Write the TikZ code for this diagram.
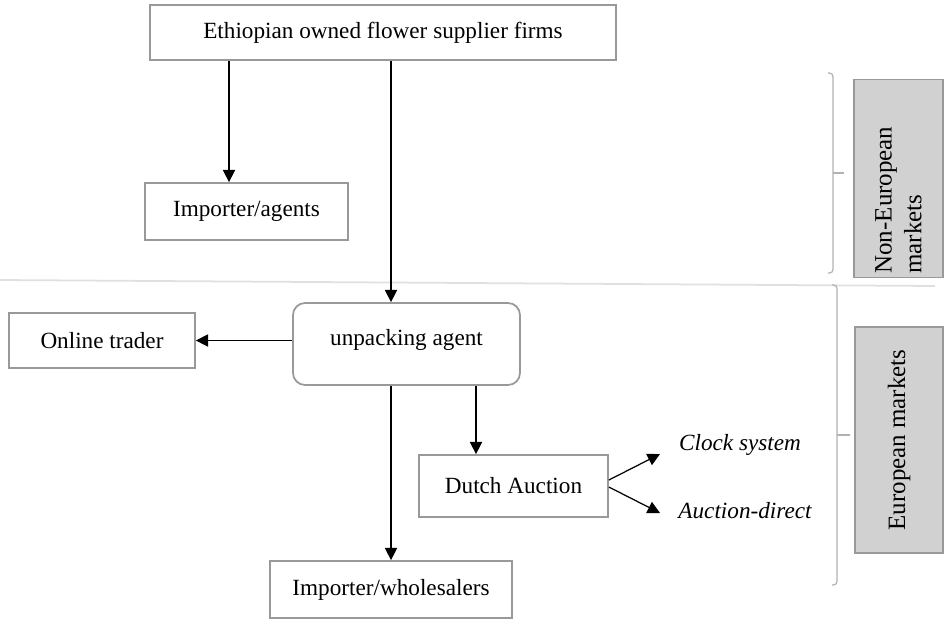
\documentclass[tikz,border=0pt]{standalone}
\usepackage{fontspec}
\setmainfont{Liberation Serif}
\usetikzlibrary{positioning,arrows.meta}

\begin{document}
\begin{tikzpicture}[
    x=0.02cm, y=-0.02cm, font=\fontsize{13.2}{15.5}\selectfont,
    box/.style={draw=black!40, line width=1pt, rectangle, inner sep=0},
    flow/.style={-{Triangle[length=7pt, width=7pt]}, line width=0.7pt},
    mkt/.style={draw=black!40, fill=black!18, line width=0.8pt, rotate=90, inner sep=0, font=\fontsize{14.2}{17}\selectfont},
    bracket/.style={draw=black!30, line width=0.7pt, rounded corners=2pt},
  ]
  \useasboundingbox (0,0) rectangle (945,619);

  % separator between the two market groups
  \draw[black!12, line width=1pt] (0,280) -- (935,286);

  \node[box, minimum width=9.32cm, minimum height=1.1cm] (firms) at (383,32.5) {Ethiopian owned flower supplier firms};
  \node[box, minimum width=4.06cm, minimum height=1.14cm] (impagents) at (246.5,211.5) {Importer/agents};
  \draw[flow] (firms.south -| 229,0) -- (impagents.north -| 229,0);

  \node[box, rounded corners=0.24cm, minimum width=4.54cm, minimum height=1.64cm, text depth=0.25cm] (unpack) at (406.5,344) {unpacking agent};
  \draw[flow] (firms.south -| 391,0) -- (unpack.north -| 391,0);

  \node[box, minimum width=3.72cm, minimum height=1.1cm] (online) at (102,340.5) {Online trader};
  \draw[flow] (unpack.west |- online.east) -- (online.east);

  \node[box, minimum width=3.78cm, minimum height=1.24cm] (dutch) at (513.5,486) {Dutch Auction};
  \draw[flow] (unpack.south -| 476,0) -- (dutch.north -| 476,0);

  \node[box, minimum width=4.84cm, minimum height=1.14cm] (wholesale) at (391,589.5) {Importer/wholesalers};
  \draw[flow] (unpack.south -| 391,0) -- (wholesale.north -| 391,0);

  \node[font=\fontsize{13.2}{15.5}\selectfont\itshape] (clock) at (740,445) {Clock system};
  \node[font=\fontsize{13.2}{15.5}\selectfont\itshape] (adirect) at (745,511) {Auction-direct};
  \coordinate (clocktip) at (660,454);
  \coordinate (adirtip) at (660,513);
  \draw[flow] ([yshift=0.12cm]dutch.east) -- (clocktip);
  \draw[flow] ([yshift=-0.02cm]dutch.east) -- (adirtip);

  % market groups
  \draw[bracket] (828,73) -- (833,73) -- (833,273) -- (828,273);
  \draw[bracket] (833,173) -- (844,173);
  \node[mkt, minimum width=3.96cm, minimum height=1.78cm, inner xsep=0.08cm, text width=3.8cm, align=left] (noneu) at (898.5,178.5) {Non-European\\markets};
  \draw[bracket] (832,285) -- (837,285) -- (837,585) -- (832,585);
  \draw[bracket] (837,435) -- (850,435);
  \node[mkt, minimum width=4.52cm, minimum height=1.76cm, align=center] (eu) at (899,440) {European markets};

\end{tikzpicture}
\end{document}
